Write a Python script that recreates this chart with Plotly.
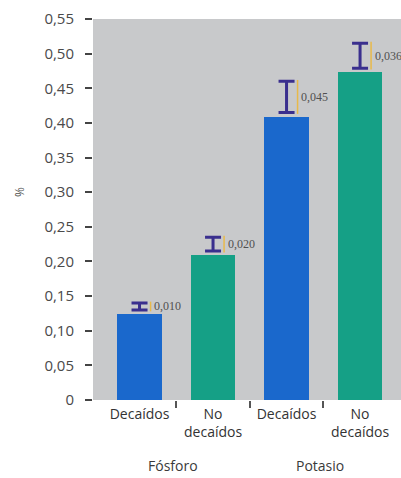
import plotly.graph_objects as go

# Nutrient content (%) in declining vs. non-declining trees
categories = ["Decaídos", "No<br>decaídos", "Decaídos", "No<br>decaídos"]
groups = ["Fósforo", "Potasio"]
values = [0.124, 0.209, 0.409, 0.473]
errors = [0.010, 0.020, 0.045, 0.036]
y_ticks = [0, 0.05, 0.10, 0.15, 0.20, 0.25, 0.30, 0.35, 0.40, 0.45, 0.50, 0.55]

bar_colors = ["#1a68cc", "#15a086", "#1a68cc", "#15a086"]
err_color = "#3a2f8e"
mark_color = "#e8b94a"
gap = 0.006  # space between bar top and its error marker

x = list(range(len(values)))
err_center = [v + gap + e / 2 for v, e in zip(values, errors)]
err_half = [e / 2 for e in errors]
err_text = [f"{e:.3f}".replace(".", ",") for e in errors]
y_text = ["0" if t == 0 else f"{t:.2f}".replace(".", ",") for t in y_ticks]

fig = go.Figure()
fig.add_trace(go.Bar(
    x=x, y=values, width=0.6,
    marker=dict(color=bar_colors, line=dict(width=0)),
    hoverinfo="skip",
))
# error marker ("I" shape)
fig.add_trace(go.Scatter(
    x=x, y=err_center, mode="markers",
    marker=dict(size=0.1, color=err_color, opacity=0),
    error_y=dict(type="data", array=err_half, visible=True,
                 color=err_color, thickness=3, width=8),
    hoverinfo="skip",
))
# thin accent line beside each marker
fig.add_trace(go.Scatter(
    x=[i + 0.15 for i in x], y=err_center, mode="markers",
    marker=dict(size=0.1, color=mark_color, opacity=0),
    error_y=dict(type="data", array=[h + 0.002 for h in err_half], visible=True,
                 color=mark_color, thickness=1.5, width=0),
    hoverinfo="skip",
))

for i, (yc, t) in enumerate(zip(err_center, err_text)):
    fig.add_annotation(
        x=i + 0.17, y=yc, xref="x", yref="y", text=t, showarrow=False,
        xanchor="left", yanchor="middle",
        font=dict(family="Liberation Serif", size=12, color="#505050"),
    )

for gi, g in enumerate(groups):
    fig.add_annotation(
        x=2 * gi + 0.45, y=-0.171, xref="x", yref="paper", text=g,
        showarrow=False, xanchor="center", yanchor="middle",
        font=dict(family="Open Sans", size=14, color="#3a3a3a"),
    )

fig.add_annotation(
    x=-0.237, y=0.546, xref="paper", yref="paper", text="%", textangle=-90,
    showarrow=False, xanchor="center", yanchor="middle",
    font=dict(family="Open Sans", size=12, color="#555555"),
)

fig.update_layout(
    width=401, height=478,
    margin=dict(l=93, r=0, t=19, b=78),
    paper_bgcolor="white", plot_bgcolor="#c8c9cb",
    showlegend=False, bargap=0,
    xaxis=dict(
        range=[-0.633, 3.557], tickvals=x, ticktext=categories,
        ticks="", showgrid=False, zeroline=False, showline=False,
        tickfont=dict(family="Open Sans", size=14, color="#333333"),
        ticklabelstandoff=4,
        minor=dict(tickvals=[0.5, 1.5, 2.5], ticks="outside", ticklen=7,
                   tickwidth=2, tickcolor="#555555", showgrid=False),
    ),
    yaxis=dict(
        range=[0, 0.55], tickvals=y_ticks, ticktext=y_text,
        ticks="outside", ticklen=7, tickwidth=2, tickcolor="#444444",
        showgrid=False, zeroline=False, showline=False,
        tickfont=dict(family="Open Sans", size=15, color="#4a4a4a"),
        ticklabelstandoff=8,
    ),
)

fig.write_html("out.html")
